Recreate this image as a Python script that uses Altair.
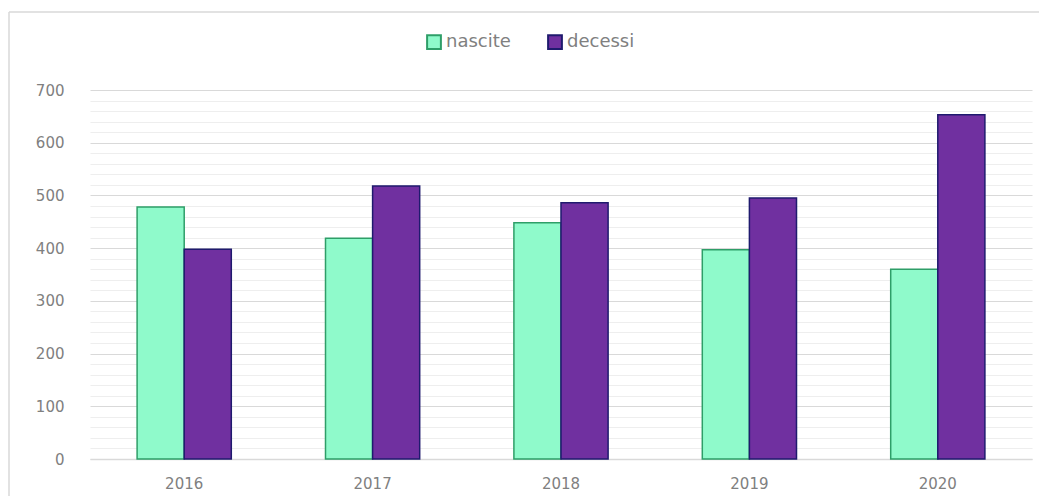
import altair as alt
import pandas as pd

anni = ["2016", "2017", "2018", "2019", "2020"]
nascite = [478, 419, 448, 397, 360]
decessi = [398, 518, 486, 495, 653]
serie = ["nascite", "decessi"]

rows = []
for i, a in enumerate(anni):
    rows.append({"anno": a, "serie": "nascite", "valore": nascite[i]})
    rows.append({"anno": a, "serie": "decessi", "valore": decessi[i]})
df = pd.DataFrame(rows)

FONT = "DejaVu Sans"
LABEL = "#808080"

one = pd.DataFrame({"k": [0]})
frame_top = alt.Chart(one).mark_rule(stroke="#d9d9d9", strokeWidth=1.5).encode(
    x=alt.value(-81), x2=alt.value(960), y=alt.value(-78),
)
frame_left = alt.Chart(one).mark_rule(stroke="#d9d9d9", strokeWidth=1.5).encode(
    x=alt.value(-81), y=alt.value(-78), y2=alt.value(420),
)

legend_opts = dict(title=None, orient="none", legendX=335, legendY=-57,
                   direction="horizontal", symbolType="square",
                   symbolSize=190, symbolStrokeWidth=2,
                   labelFont=FONT, labelFontSize=18, labelColor=LABEL,
                   columnPadding=33, labelOffset=3)

bars = alt.Chart(df).mark_bar(strokeWidth=1.5).encode(
    x=alt.X("anno:N", sort=anni,
            scale=alt.Scale(paddingInner=0.5, paddingOuter=0.25),
            axis=alt.Axis(title=None, labelAngle=0, ticks=False,
                          domainColor="#d9d9d9", domainWidth=1.5,
                          labelPadding=17, labelFontSize=15,
                          labelFont=FONT, labelColor=LABEL, grid=False)),
    xOffset=alt.XOffset("serie:N", sort=serie),
    y=alt.Y("valore:Q",
            scale=alt.Scale(domain=[0, 700], nice=False),
            axis=alt.Axis(title=None, values=list(range(0, 701, 20)),
                          labelExpr="datum.value % 100 === 0 ? datum.label : ''",
                          ticks=False, domain=False, grid=True,
                          gridColor={"condition": {"test": "datum.value % 100 === 0", "value": "#d9d9d9"}, "value": "#eeeeee"},
                          gridWidth=1.2,
                          labelPadding=26, labelFontSize=15,
                          labelFont=FONT, labelColor=LABEL)),
    color=alt.Color("serie:N", sort=serie,
                    scale=alt.Scale(domain=serie, range=["#8ffacb", "#7030a0"]),
                    legend=alt.Legend(**legend_opts)),
    stroke=alt.Stroke("serie:N", sort=serie,
                      scale=alt.Scale(domain=serie, range=["#2e9e68", "#1f1a6e"]),
                      legend=alt.Legend(**legend_opts)),
)

chart = alt.layer(frame_top, frame_left, bars).properties(
    width=942, height=369,
    autosize=alt.AutoSizeParams(type="none"),
    padding={"left": 82, "top": 82, "right": 7, "bottom": 37},
    background="white",
).configure_view(stroke=None)

chart.save("out.html", embed_options={"renderer": "svg", "actions": False})
